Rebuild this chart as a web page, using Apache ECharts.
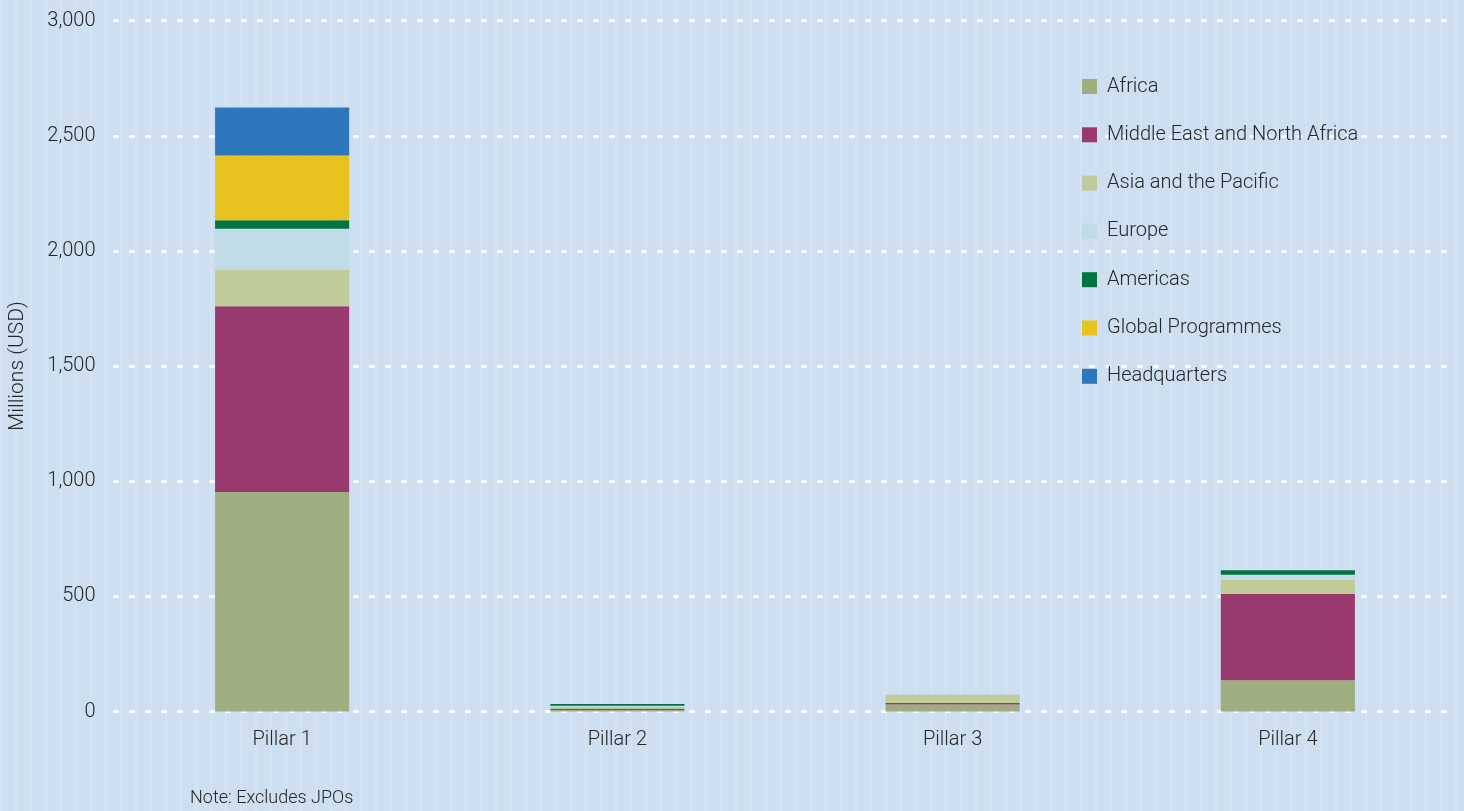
<!DOCTYPE html>
<html>
<head>
<meta charset="utf-8">
<script src="https://cdn.jsdelivr.net/npm/echarts@6/dist/echarts.min.js"></script>
<style>
html,body{margin:0;padding:0;background:#cddff0;}
#c{width:1464px;height:811px;}
</style>
</head>
<body>
<div id="c"></div>
<script>
const categories = ['Pillar 1', 'Pillar 2', 'Pillar 3', 'Pillar 4'];
const seriesNames = ['Africa', 'Middle East and North Africa', 'Asia and the Pacific', 'Europe', 'Americas', 'Global Programmes', 'Headquarters'];
const africa = [953, 6, 30, 136];
const mena = [807, 6, 7, 374];
const asiaPacific = [160, 7, 36, 61];
const europe = [177, 6, 0, 23];
const americas = [36, 8, 0, 19];
const globalProgrammes = [282, 0, 0, 0];
const headquarters = [208, 0, 0, 0];
const yTicks = [0, 500, 1000, 1500, 2000, 2500, 3000];

const seriesData = [africa, mena, asiaPacific, europe, americas, globalProgrammes, headquarters];
const colors = ['#9fae80', '#983a6e', '#bfcc98', '#c0dce8', '#007540', '#e8c21e', '#2e77bc'];

const FONT = "Roboto, 'Liberation Sans Narrow', sans-serif";
const FW = 300;
const TXT = '#262626';

// subtle vertical stripe background
const pc = document.createElement('canvas');
pc.width = 15; pc.height = 10;
const pctx = pc.getContext('2d');
pctx.fillStyle = '#cddff0';
pctx.fillRect(0, 0, 15, 10);
pctx.fillStyle = '#d3e3f2';
pctx.fillRect(0, 0, 2, 10);

const chart = echarts.init(document.getElementById('c'));
chart.setOption({
  backgroundColor: {image: pc, repeat: 'repeat'},
  animation: false,
  textStyle: {fontFamily: FONT, fontWeight: FW},
  grid: {left: 114.5, right: 8.5, top: 20.7, bottom: 99.5, containLabel: false, outerBoundsMode: 'none'},
  legend: {
    orient: 'vertical',
    left: 1082,
    top: 76.5,
    padding: 0,
    itemWidth: 15,
    itemHeight: 15,
    itemGap: 28.3,
    icon: 'rect',
    textStyle: {fontFamily: FONT, fontWeight: FW, fontSize: 20, color: TXT, padding: [0, 0, 0, 5]},
    data: seriesNames
  },
  xAxis: {
    type: 'category',
    data: categories,
    axisLine: {show: false},
    axisTick: {show: false},
    axisLabel: {fontFamily: FONT, fontWeight: FW, fontSize: 20, color: TXT, margin: 18}
  },
  yAxis: {
    type: 'value',
    min: yTicks[0],
    max: yTicks[yTicks.length - 1],
    interval: 500,
    name: 'Millions (USD)',
    nameLocation: 'middle',
    nameGap: 86,
    nameTextStyle: {fontFamily: FONT, fontWeight: FW, fontSize: 21, color: TXT},
    axisLine: {show: false},
    axisTick: {show: false},
    axisLabel: {
      fontFamily: FONT, fontWeight: FW, fontSize: 20, color: TXT, margin: 19,
      formatter: v => v.toLocaleString('en-US')
    },
    splitLine: {lineStyle: {color: '#ffffff', width: 3, type: [3, 13], cap: 'round'}}
  },
  series: seriesNames.map((n, i) => ({
    name: n,
    type: 'bar',
    stack: 'total',
    barWidth: '40%',
    data: seriesData[i],
    itemStyle: {color: colors[i]}
  })),
  graphic: [{
    type: 'text',
    left: 190,
    top: 789,
    style: {text: 'Note: Excludes JPOs', fontFamily: FONT, fontWeight: FW, fontSize: 18, fill: TXT}
  }]
});
</script>
</body>
</html>
